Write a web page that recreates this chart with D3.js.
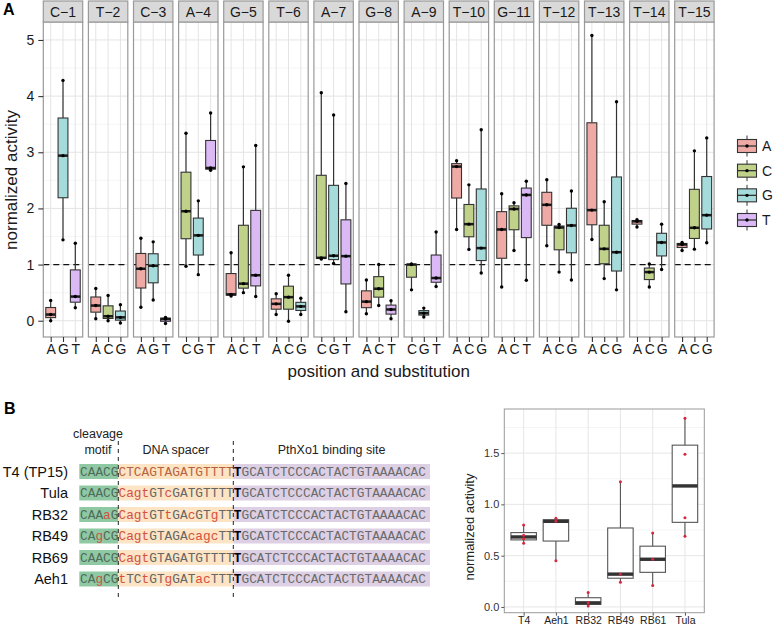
<!DOCTYPE html>
<html><head><meta charset="utf-8">
<script src="https://cdn.jsdelivr.net/npm/d3@7"></script>
<style>body{margin:0;background:#fff}svg{display:block;font-family:"Liberation Sans",Arial,sans-serif}</style>
</head><body>
<svg id="c" width="774" height="629"></svg>
<script>
// ---------- Panel A data ----------
const positions = ["C\u22121","T\u22122","C\u22123","A\u22124","G\u22125","T\u22126","A\u22127","G\u22128","A\u22129","T\u221210","G\u221211","T\u221212","T\u221213","T\u221214","T\u221215"];
const substitutions = [
  ["A","G","T"],["A","C","G"],["A","G","T"],["C","G","T"],["A","C","T"],
  ["A","C","G"],["C","G","T"],["A","C","T"],["C","G","T"],["A","C","G"],
  ["A","C","T"],["A","C","G"],["A","C","G"],["A","C","G"],["A","C","G"]
];
const activity = [
  [[0.0,0.11,0.36],[1.44,2.94,4.28],[0.23,0.43,1.38]],
  [[0.035,0.27,0.575],[0.0,0.08,0.45],[-0.04,0.06,0.285]],
  [[0.24,0.925,1.47],[0.37,0.98,1.405],[-0.05,0.03,0.06]],
  [[0.97,1.95,3.34],[0.82,1.52,2.135],[2.68,2.72,3.70]],
  [[0.44,0.47,1.21],[0.50,0.66,2.74],[0.43,0.81,3.12]],
  [[0.11,0.30,0.48],[-0.01,0.42,0.81],[0.11,0.255,0.40]],
  [[1.10,1.12,4.06],[1.02,1.157,3.665],[0.16,1.15,2.444]],
  [[0.125,0.34,0.724],[0.27,0.57,1.0],[0.035,0.20,0.356]],
  [[0.55,1.0,1.01],[0.065,0.135,0.225],[0.61,0.76,1.58]],
  [[1.625,2.745,2.85],[1.27,1.72,2.42],[0.85,1.293,3.40]],
  [[0.6,1.625,2.26],[1.25,1.99,2.10],[0.72,2.24,2.485]],
  [[1.335,2.064,2.51],[0.866,1.66,1.714],[0.724,1.696,2.31]],
  [[1.447,1.97,5.08],[0.75,1.28,2.12],[0.55,1.22,3.90]],
  [[1.67,1.77,1.80],[0.60,0.866,1.01],[0.913,1.394,1.72]],
  [[1.25,1.358,1.394],[1.275,1.655,3.025],[1.388,1.88,3.256]]
];
const bases = ["A","C","G","T"];
const baseColors = ["#EFAAA5","#C0D28A","#A6DBDC","#DAB9F5"];
const yTicksA = [0,1,2,3,4,5];

// ---------- Panel B data ----------
const strains = ["T4 (TP15)","Tula","RB32","RB49","RB69","Aeh1"];
const motifs = ["CAACG","CAACG","CAAaG","CAgCG","CAACG","CAgCG"];
const spacers = ["CTCAGTAGATGTTTT","CagtGTcGATGTTTT","CagtGTtGAcGTgTT","CagtGTAGAcagcTT","CagtGTAGATGTTTT","tTCtGTgGATacTTT"];
const bindingSite = "GCATCTCCCACTACTGTAAAACAC";
const phages = ["T4","Aeh1","RB32","RB49","RB61","Tula"];
const phageActivity = [
  [0.62,0.665,0.70,0.80],
  [0.45,0.835,0.865],
  [0.01,0.04,0.14],
  [0.24,0.32,1.22],
  [0.21,0.465,0.72],
  [0.69,0.87,1.49,1.84]
];
const yTicksB = [0,0.5,1,1.5];

const svg = d3.select("#c");
function stats(v){
  const s = v.slice().sort(d3.ascending);
  return {lo:s[0], q1:d3.quantile(s,0.25), med:d3.quantile(s,0.5), q3:d3.quantile(s,0.75), hi:s[s.length-1]};
}
const FONT = "Liberation Sans, Arial, sans-serif";

// ================= PANEL A =================
const color = d3.scaleOrdinal().domain(bases).range(baseColors);
const fx = d3.scaleBand().domain(positions).range([43.3,714.1]).paddingInner(5.7/45.1);
const y = d3.scaleLinear().domain([-0.29,5.32]).range([337,22]);
const pw = fx.bandwidth();

svg.append("text").attr("x",3).attr("y",15).attr("font-size",16).attr("font-weight","bold").text("A");

positions.forEach((pos,i)=>{
  const g = svg.append("g").attr("transform",`translate(${fx(pos)},0)`);
  const x = d3.scalePoint().domain(substitutions[i]).range([0,pw]).padding(0.6);
  g.append("rect").attr("x",0).attr("y",22).attr("width",pw).attr("height",315).attr("fill","#fff");
  [0.5,1.5,2.5,3.5,4.5].forEach(v=>{
    g.append("line").attr("x1",0).attr("x2",pw).attr("y1",y(v)).attr("y2",y(v)).attr("stroke","#f2f2f2").attr("stroke-width",0.8);
  });
  yTicksA.forEach(v=>{
    g.append("line").attr("x1",0).attr("x2",pw).attr("y1",y(v)).attr("y2",y(v)).attr("stroke","#e4e4e4").attr("stroke-width",1);
  });
  substitutions[i].forEach(s=>{
    g.append("line").attr("x1",x(s)).attr("x2",x(s)).attr("y1",22).attr("y2",337).attr("stroke","#e4e4e4").attr("stroke-width",1);
  });
  g.append("line").attr("x1",0).attr("x2",pw).attr("y1",y(1)).attr("y2",y(1)).attr("stroke","#111").attr("stroke-width",1.2).attr("stroke-dasharray","6,4");
  const bw = x.step()*0.8;
  substitutions[i].forEach((s,j)=>{
    const st = stats(activity[i][j]);
    const cx = x(s);
    g.append("line").attr("x1",cx).attr("x2",cx).attr("y1",y(st.hi)).attr("y2",y(st.q3)).attr("stroke","#333").attr("stroke-width",1.2);
    g.append("line").attr("x1",cx).attr("x2",cx).attr("y1",y(st.q1)).attr("y2",y(st.lo)).attr("stroke","#333").attr("stroke-width",1.2);
    g.append("rect").attr("x",cx-bw/2).attr("y",y(st.q3)).attr("width",bw).attr("height",Math.max(0.5,y(st.q1)-y(st.q3)))
      .attr("fill",color(s)).attr("stroke","#333").attr("stroke-width",1.1);
    g.append("line").attr("x1",cx-bw/2).attr("x2",cx+bw/2).attr("y1",y(st.med)).attr("y2",y(st.med)).attr("stroke","#1a1a1a").attr("stroke-width",2.5);
    activity[i][j].forEach(v=>{
      g.append("circle").attr("cx",cx).attr("cy",y(v)).attr("r",1.7).attr("fill","#000");
    });
  });
  g.append("rect").attr("x",0).attr("y",22).attr("width",pw).attr("height",315).attr("fill","none").attr("stroke","#9a9a9a").attr("stroke-width",1.2);
  g.append("rect").attr("x",0).attr("y",1).attr("width",pw).attr("height",21).attr("fill","#d9d9d9").attr("stroke","#9a9a9a").attr("stroke-width",1.2);
  g.append("text").attr("x",pw/2).attr("y",16.5).attr("text-anchor","middle").attr("font-size",14).attr("fill","#1a1a1a").text(pos);
  const ax = g.append("g").attr("transform","translate(0,337)").call(d3.axisBottom(x).tickSize(5).tickPadding(2));
  ax.select(".domain").remove();
  ax.selectAll("line").attr("stroke","#333").attr("stroke-width",1.1);
  ax.selectAll("text").attr("font-size",14).attr("fill","#1a1a1a").attr("font-family",FONT);
});
const ay = svg.append("g").attr("transform","translate(43.3,0)").call(d3.axisLeft(y).tickValues(yTicksA).tickFormat(d3.format("d")).tickSize(5).tickPadding(4));
ay.select(".domain").remove();
ay.selectAll("line").attr("stroke","#333").attr("stroke-width",1.1);
ay.selectAll("text").attr("font-size",14).attr("fill","#1a1a1a").attr("font-family",FONT);
svg.append("text").attr("transform","translate(17,180) rotate(-90)").attr("text-anchor","middle").attr("font-size",17).attr("fill","#1a1a1a").text("normalized activity");
svg.append("text").attr("x",(fx.range()[0]+fx.range()[1])/2).attr("y",377).attr("text-anchor","middle").attr("font-size",17).attr("fill","#1a1a1a").text("position and substitution");

const ly = d3.scalePoint().domain(bases).range([146,220]);
bases.forEach(b=>{
  const cy = ly(b), kx = 747;
  svg.append("line").attr("x1",kx).attr("x2",kx).attr("y1",cy-10.5).attr("y2",cy+10.5).attr("stroke","#333").attr("stroke-width",1);
  svg.append("rect").attr("x",kx-9.5).attr("y",cy-6.5).attr("width",19).attr("height",13).attr("fill",color(b)).attr("stroke","#333").attr("stroke-width",1.1);
  svg.append("line").attr("x1",kx-9.5).attr("x2",kx+9.5).attr("y1",cy).attr("y2",cy).attr("stroke","#333").attr("stroke-width",1.3);
  svg.append("circle").attr("cx",kx).attr("cy",cy).attr("r",1.7).attr("fill","#000");
  svg.append("text").attr("x",762).attr("y",cy+5).attr("font-size",14).attr("fill","#1a1a1a").text(b);
});

// ================= PANEL B (alignment) =================
svg.append("text").attr("x",4).attr("y",414).attr("font-size",16).attr("font-weight","bold").text("B");
const seqX = 80, motifEnd = 118.3, spacerEnd = 233.3, bindEnd = 430;
const rowY = d3.scalePoint().domain(strains).range([471.5,579]);
const hdr = (x,yv,t)=>svg.append("text").attr("x",x).attr("y",yv).attr("text-anchor","middle").attr("font-size",12.5).attr("fill","#222").text(t);
hdr(98,438,"cleavage"); hdr(98,454,"motif");
hdr((motifEnd+spacerEnd)/2,454,"DNA spacer");
hdr((spacerEnd+bindEnd)/2,454,"PthXo1 binding site");
strains.forEach((s,i)=>{
  const cy = rowY(s);
  svg.append("rect").attr("x",79.3).attr("y",cy-7.5).attr("width",motifEnd-79.3).attr("height",15).attr("fill","#8FC9A4");
  svg.append("rect").attr("x",motifEnd).attr("y",cy-7.5).attr("width",spacerEnd-motifEnd).attr("height",15).attr("fill","#FCE4C4");
  svg.append("rect").attr("x",spacerEnd).attr("y",cy-7.5).attr("width",bindEnd-spacerEnd).attr("height",15).attr("fill","#DDD0E4");
  svg.append("text").attr("x",68).attr("y",cy+5).attr("text-anchor","end").attr("font-size",14.5).attr("fill","#111").text(s);
  const t = svg.append("text").attr("x",seqX).attr("y",cy+4.3).attr("font-size",12.8).attr("font-family","Liberation Mono, Courier New, monospace");
  const red = "#D4503F", grey = "#666";
  motifs[i].split("").forEach(c=>t.append("tspan").attr("fill",c===c.toLowerCase()?red:"#4f6b5a").text(c));
  spacers[i].split("").forEach((c,k)=>{
    let f = c===c.toLowerCase()?red:grey;
    if(i===0) f = "#B8633F";
    if(i>0 && k===0 && spacers[i][1]===spacers[i][1].toLowerCase()) f = red;
    t.append("tspan").attr("fill",f).text(c);
  });
  t.append("tspan").attr("fill","#000").attr("font-weight","bold").text("T");
  bindingSite.split("").forEach(c=>t.append("tspan").attr("fill","#6a6a6a").text(c));
});
[motifEnd,spacerEnd].forEach(xv=>{
  svg.append("line").attr("x1",xv).attr("x2",xv).attr("y1",441).attr("y2",600).attr("stroke","#222").attr("stroke-width",1).attr("stroke-dasharray","4,4");
});

// ================= PANEL B (boxplot) =================
const bx = d3.scalePoint().domain(phages).range([504.3,704.3]).padding(0.6);
const by = d3.scaleLinear().domain([-0.056,1.93]).range([612.7,409]);
const gB = svg.append("g");
gB.append("rect").attr("x",504.3).attr("y",409).attr("width",200).attr("height",203.7).attr("fill","#fff");
[0.25,0.75,1.25,1.75].forEach(v=>gB.append("line").attr("x1",504.3).attr("x2",704.3).attr("y1",by(v)).attr("y2",by(v)).attr("stroke","#f3f3f3").attr("stroke-width",0.8));
yTicksB.forEach(v=>gB.append("line").attr("x1",504.3).attr("x2",704.3).attr("y1",by(v)).attr("y2",by(v)).attr("stroke","#e6e6e6").attr("stroke-width",1));
phages.forEach(p=>gB.append("line").attr("x1",bx(p)).attr("x2",bx(p)).attr("y1",409).attr("y2",612.7).attr("stroke","#e6e6e6").attr("stroke-width",1));
const bbw = bx.step()*0.79;
phages.forEach((p,i)=>{
  const st = stats(phageActivity[i]); const cx = bx(p);
  gB.append("line").attr("x1",cx).attr("x2",cx).attr("y1",by(st.hi)).attr("y2",by(st.q3)).attr("stroke","#555").attr("stroke-width",1.1);
  gB.append("line").attr("x1",cx).attr("x2",cx).attr("y1",by(st.q1)).attr("y2",by(st.lo)).attr("stroke","#555").attr("stroke-width",1.1);
  gB.append("rect").attr("x",cx-bbw/2).attr("y",by(st.q3)).attr("width",bbw).attr("height",by(st.q1)-by(st.q3)).attr("fill","#fff").attr("stroke","#555").attr("stroke-width",1.1);
  gB.append("line").attr("x1",cx-bbw/2).attr("x2",cx+bbw/2).attr("y1",by(st.med)).attr("y2",by(st.med)).attr("stroke","#333").attr("stroke-width",3.4);
  phageActivity[i].forEach(v=>gB.append("circle").attr("cx",cx).attr("cy",by(v)).attr("r",1.5).attr("fill","#D7263D"));
});
gB.append("rect").attr("x",504.3).attr("y",409).attr("width",200).attr("height",203.7).attr("fill","none").attr("stroke","#9a9a9a").attr("stroke-width",1);
const byAx = gB.append("g").attr("transform","translate(504.3,0)").call(d3.axisLeft(by).tickValues(yTicksB).tickFormat(d3.format(".1f")).tickSize(3).tickPadding(2));
byAx.select(".domain").remove();
byAx.selectAll("line").attr("stroke","#555");
byAx.selectAll("text").attr("font-size",11).attr("fill","#333").attr("font-family",FONT);
const bxAx = gB.append("g").attr("transform","translate(0,612.7)").call(d3.axisBottom(bx).tickSize(3).tickPadding(1));
bxAx.select(".domain").remove();
bxAx.selectAll("line").attr("stroke","#555");
bxAx.selectAll("text").attr("font-size",10.5).attr("fill","#222").attr("font-family",FONT);
gB.append("text").attr("transform","translate(474,527) rotate(-90)").attr("text-anchor","middle").attr("font-size",13).attr("fill","#222").text("normalized activity");
</script>
</body></html>
